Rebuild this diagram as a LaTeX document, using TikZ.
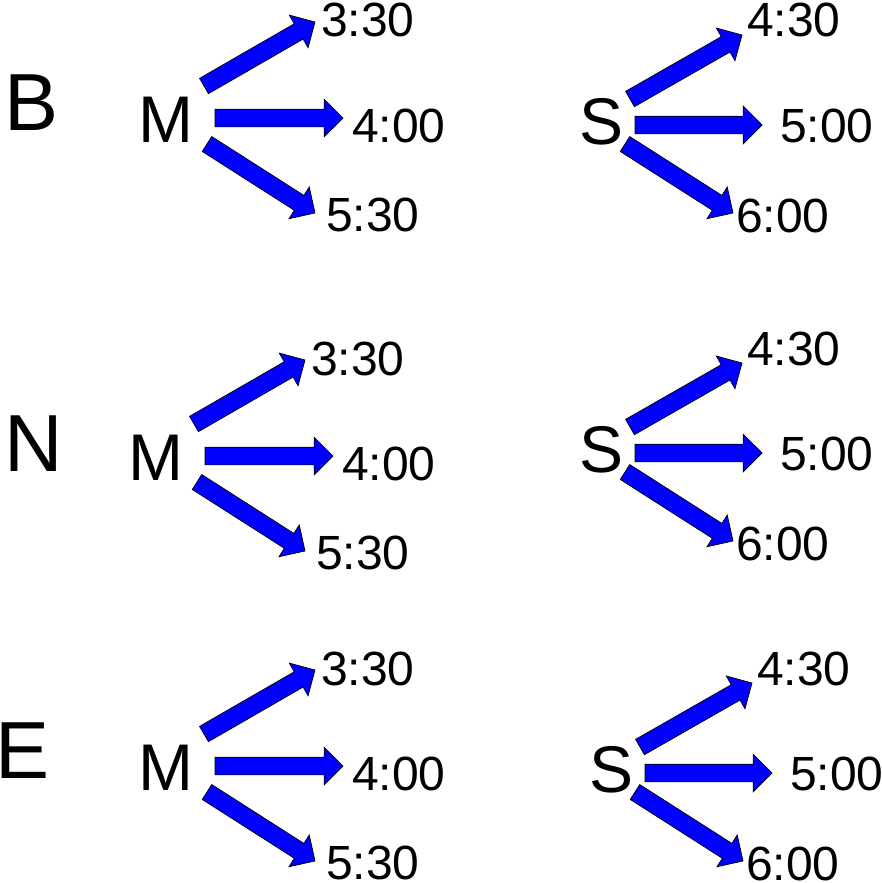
\documentclass[tikz,border=0pt]{standalone}
\usepackage{fontspec}
\setmainfont{Liberation Sans}
\usetikzlibrary{shapes.arrows,calc}

\tikzset{
  rowlabel/.style={anchor=base west, inner sep=0pt, font=\fontsize{81}{81}\selectfont},
  src/.style={anchor=base west, inner sep=0pt, font=\fontsize{66}{66}\selectfont},
  time/.style={anchor=base west, inner sep=0pt, font=\fontsize{48}{48}\selectfont},
  blockarr/.style={single arrow, draw=black, fill=blue, line width=0.7pt,
    inner sep=8.5pt, outer sep=0pt, single arrow head extend=10pt, anchor=tail}
}
\newcommand\blockarrow[2]{%
  \path let \p1=($(#2)-(#1)$), \n1={veclen(\x1,\y1)}, \n2={atan2(\y1,\x1)} in
    node[blockarr, minimum height=\n1, rotate=\n2] at (#1) {};}

\begin{document}
\begin{tikzpicture}[x=1pt, y=-1pt]
\useasboundingbox (0,0) rectangle (882,883);
\node[rowlabel] (b) at (4,130) {B};
\node[rowlabel] (n) at (4,471) {N};
\node[rowlabel] (e) at (-5,778) {E};
% M column
\foreach \g/\dx/\dy in {bm/0/0, nm/-10/338, em/0/648}{
  \begin{scope}[shift={(\dx,\dy)}]
    \node[src]  (\g)   at (138,142) {M};
    \node[time] (\g-a) at (321,37)  {3:30};
    \node[time] (\g-b) at (352,142) {4:00};
    \node[time] (\g-c) at (326,231) {5:30};
  \end{scope}
  \coordinate (\g-ta) at ([shift={(66,-56)}]\g.base west);
  \coordinate (\g-tb) at ([shift={(77,-24)}]\g.base west);
  \coordinate (\g-tc) at ([shift={(69,2)}]\g.base west);
  \coordinate (\g-ha) at ([shift={(-6,-15)}]\g-a.base west);
  \coordinate (\g-hb) at ([shift={(-9,-24)}]\g-b.base west);
  \coordinate (\g-hc) at ([shift={(-11,-18)}]\g-c.base west);
  \blockarrow{\g-ta}{\g-ha}
  \blockarrow{\g-tb}{\g-hb}
  \blockarrow{\g-tc}{\g-hc}
}
% S column
\foreach \g/\dx/\dy in {bs/0/0, ns/0/328, es/10/648}{
  \begin{scope}[shift={(\dx,\dy)}]
    \node[src]  (\g)   at (579,144) {S};
    \node[time] (\g-a) at (747,37)  {4:30};
    \node[time] (\g-b) at (780,142) {5:00};
    \node[time] (\g-c) at (736,232) {6:00};
  \end{scope}
  \coordinate (\g-ta) at ([shift={(51,-45)}]\g.base west);
  \coordinate (\g-tb) at ([shift={(56,-19)}]\g.base west);
  \coordinate (\g-tc) at ([shift={(46,0)}]\g.base west);
  \coordinate (\g-ha) at ([shift={(-5,-2)}]\g-a.base west);
  \coordinate (\g-hb) at ([shift={(-18,-17)}]\g-b.base west);
  \coordinate (\g-hc) at ([shift={(-3,-19)}]\g-c.base west);
  \blockarrow{\g-ta}{\g-ha}
  \blockarrow{\g-tb}{\g-hb}
  \blockarrow{\g-tc}{\g-hc}
}
\end{tikzpicture}
\end{document}
